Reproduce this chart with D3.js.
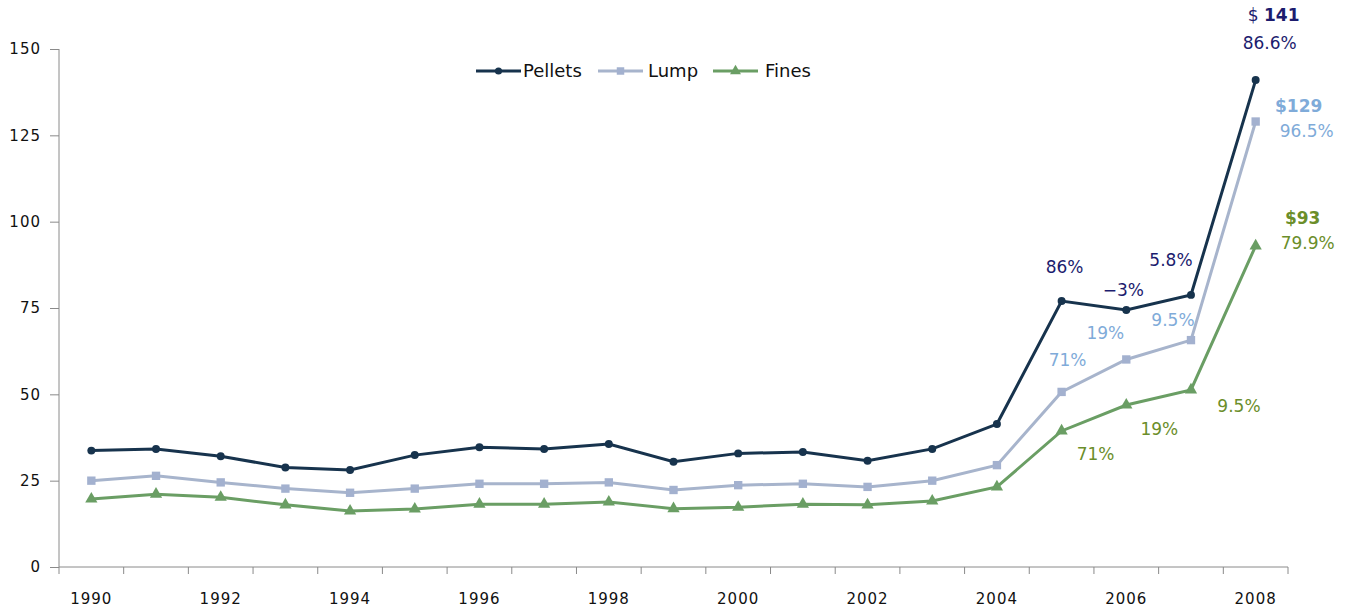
<!DOCTYPE html>
<html><head><meta charset="utf-8">
<script src="https://cdn.jsdelivr.net/npm/d3@7"></script>
<style>body{margin:0;background:#fff}svg{display:block}text{font-family:"DejaVu Sans",sans-serif}</style>
</head><body><svg id="c" width="1351" height="616"></svg>
<script>
const years = [1990,1991,1992,1993,1994,1995,1996,1997,1998,1999,2000,2001,2002,2003,2004,2005,2006,2007,2008];
const pellets = [33.7,34.2,32.1,28.8,28.1,32.4,34.7,34.2,35.6,30.5,32.9,33.3,30.8,34.2,41.4,77,74.4,78.8,141];
const lump = [25.0,26.4,24.5,22.7,21.5,22.7,24.1,24.1,24.5,22.3,23.7,24.1,23.2,25.0,29.5,50.7,60.1,65.7,129];
const fines = [19.7,21.1,20.2,18.0,16.2,16.8,18.2,18.2,18.8,16.9,17.3,18.2,18.0,19.1,23.2,39.4,46.9,51.3,93];
const yTicks = [0,25,50,75,100,125,150];
const xLabels = [1990,1992,1994,1996,1998,2000,2002,2004,2006,2008];
const seriesNames = ["Pellets","Lump","Fines"];
const pelletNotes = [[2005,"86%"],[2006,"\u22123%"],[2007,"5.8%"],[2008,"86.6%"]];
const lumpNotes = [[2005,"71%"],[2006,"19%"],[2007,"9.5%"],[2008,"96.5%"]];
const finesNotes = [[2005,"71%"],[2006,"19%"],[2007,"9.5%"],[2008,"79.9%"]];

const svg = d3.select("#c");
const x = d3.scaleBand().domain(years).range([59,1288]).padding(0);
const cx = d => x(d) + x.bandwidth()/2;
const y = d3.scaleLinear().domain([0,150]).range([567,49]);
const axisCol = "#8a8a8a";

const ya = svg.append("g").attr("transform","translate(59,0)")
  .call(d3.axisLeft(y).tickValues(yTicks).tickSize(9).tickPadding(9));
ya.selectAll("text").attr("font-size",15).attr("fill","#111").attr("letter-spacing","1");
ya.selectAll("line,path").attr("stroke",axisCol);
ya.select(".domain").attr("d","M0,"+y(150)+"V"+y(0));

const xa = svg.append("g").attr("transform","translate(0,567)");
xa.append("line").attr("x1",59).attr("x2",1288).attr("stroke",axisCol);
const edges = years.map(d=>x(d)).concat([x(2008)+x.bandwidth()]);
xa.selectAll("line.t").data(edges).join("line").attr("class","t")
  .attr("x1",d=>d).attr("x2",d=>d).attr("y1",0).attr("y2",7).attr("stroke",axisCol);
xa.selectAll("text").data(xLabels).join("text")
  .attr("x",d=>cx(d)).attr("y",37).attr("text-anchor","middle")
  .attr("font-size",15).attr("fill","#111").attr("letter-spacing","1").text(d=>d);

const cols = {Pellets:"#17334d", Lump:"#a7b4cc", Fines:"#6a9e64"};
const mcols = {Pellets:"#17334d", Lump:"#a3b1cf", Fines:"#6a9e64"};
const dataMap = {Pellets:pellets, Lump:lump, Fines:fines};
const line = d3.line().x((d,i)=>cx(years[i])).y(d=>y(d));
const sym = {Pellets:d3.symbolCircle, Lump:d3.symbolSquare, Fines:d3.symbolTriangle};
const symSize = {Pellets:50, Lump:70, Fines:65};

["Fines","Lump","Pellets"].forEach(s=>{
  const g = svg.append("g");
  g.append("path").datum(dataMap[s]).attr("d",line).attr("fill","none")
    .attr("stroke",cols[s]).attr("stroke-width",3);
  g.selectAll("path.m").data(dataMap[s]).join("path").attr("class","m")
    .attr("transform",(d,i)=>`translate(${cx(years[i])},${y(d)})`)
    .attr("d",d3.symbol().type(sym[s]).size(symSize[s])).attr("fill",mcols[s]);
});

const leg = svg.append("g");
const legItems = [["Pellets",476,523],["Lump",598,648],["Fines",713,765]];
legItems.forEach(([s,lx,tx])=>{
  leg.append("line").attr("x1",lx).attr("x2",lx+45).attr("y1",71).attr("y2",71)
    .attr("stroke",cols[s]).attr("stroke-width",3);
  leg.append("path").attr("transform",`translate(${lx+22.5},71)`)
    .attr("d",d3.symbol().type(sym[s]).size(symSize[s]*0.8)).attr("fill",mcols[s]);
  leg.append("text").attr("x",tx).attr("y",77).attr("font-size",18).attr("fill","#111").text(s);
});

const navy = "#1c1c6e", lblue = "#7fabd9", olive = "#6b8e2a";
function note(txt, xp, yp, col, bold){
  svg.append("text").attr("x",xp).attr("y",yp).attr("text-anchor","middle")
    .attr("font-size",17).attr("fill",col).attr("font-weight",bold?"bold":"normal").text(txt);
}
const pOff = {2005:[3,-28],2006:[-3,-14],2007:[-20,-29],2008:[14,-31]};
pelletNotes.forEach(([yr,t])=>{
  const v = pellets[years.indexOf(yr)];
  note(t, cx(yr)+pOff[yr][0], y(v)+pOff[yr][1], navy);
});
const t141 = svg.append("text").attr("x",cx(2008)+18).attr("y",y(141)-59).attr("text-anchor","middle").attr("font-size",17).attr("fill",navy);
t141.append("tspan").text("$ ");
t141.append("tspan").attr("font-weight","bold").text("141");
const lOff = {2005:[6,-26],2006:[-21,-20],2007:[-18,-14],2008:[51,15]};
lumpNotes.forEach(([yr,t])=>{
  const v = lump[years.indexOf(yr)];
  note(t, cx(yr)+lOff[yr][0], y(v)+lOff[yr][1], lblue);
});
note("$129", cx(2008)+43, y(129)-10, lblue, true);
const fOff = {2005:[34,29],2006:[33,30],2007:[48,22],2008:[52,3]};
finesNotes.forEach(([yr,t])=>{
  const v = fines[years.indexOf(yr)];
  note(t, cx(yr)+fOff[yr][0], y(v)+fOff[yr][1], olive);
});
note("$93", cx(2008)+47, y(93)-22, olive, true);
</script></body></html>
